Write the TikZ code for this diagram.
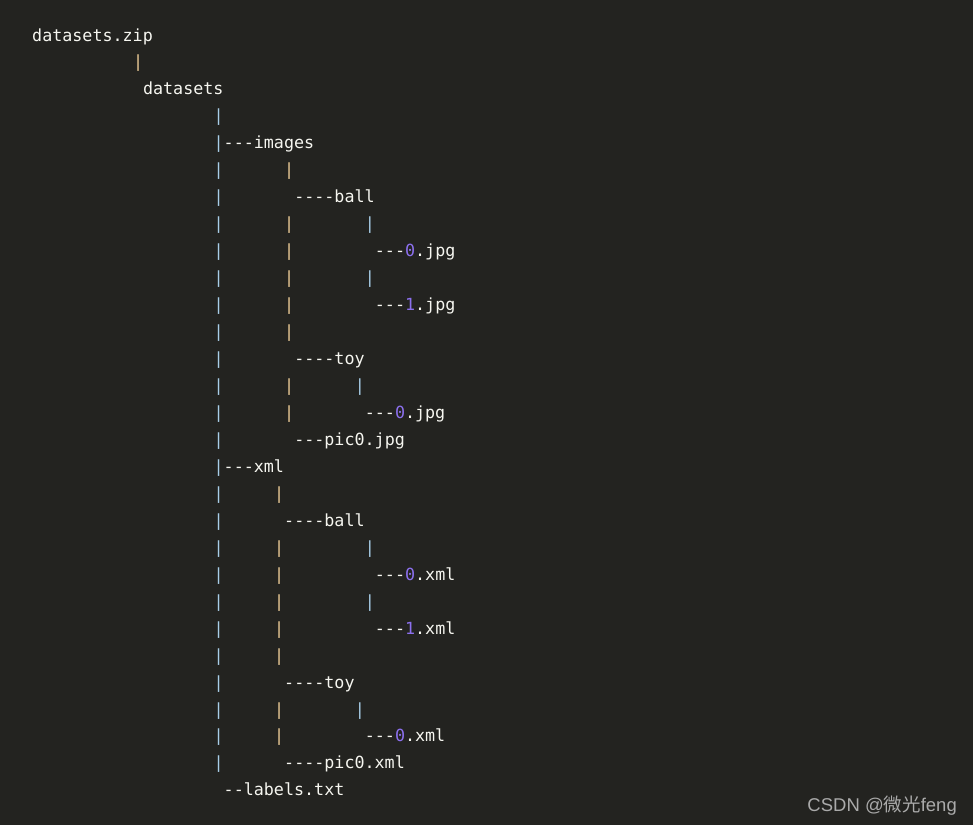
\documentclass[tikz,border=0pt]{standalone}
\usepackage{fontspec}
\setmonofont{DejaVu Sans Mono}
\newfontfamily\wmfont{Liberation Sans}
\newfontfamily\cjk{Noto Sans CJK SC}
\usepackage{tikz}
\definecolor{codebg}{RGB}{35,35,32}
\definecolor{codefg}{RGB}{246,246,240}
\definecolor{pipeblue}{RGB}{168,206,232}
\definecolor{pipeorange}{RGB}{236,204,150}
\definecolor{numpurple}{RGB}{140,112,238}
\definecolor{wmgray}{RGB}{170,170,170}
\tikzset{
  x=1pt, y=-1pt,
}
\tikzstyle{every node}=[inner sep=0pt,anchor=base west]
\tikzstyle{code}=[text=codefg,font=\fontsize{16.7}{20}\ttfamily]
\tikzstyle{bluepipe}=[code,text=pipeblue]
\tikzstyle{orangepipe}=[code,text=pipeorange]
\newcommand{\num}[1]{\textcolor{numpurple}{#1}}
% column c, row r of the listing
\newcommand{\at}[2]{({32+10.08*#1},{41+26.96*#2})}

\begin{document}
\begin{tikzpicture}
    \fill[codebg] (0,0) rectangle (973,825);
    \useasboundingbox (0,0) rectangle (973,825);
    % names
    \node[code] (zip) at \at{0}{0} {datasets.zip};
    \node[code] (ds) at \at{11}{2} {datasets};
    \node[code] (img) at \at{19}{4} {---images};
    \node[code] (imgball) at \at{26}{6} {----ball};
    \node[code] (imgball0) at \at{34}{8} {---\num{0}.jpg};
    \node[code] (imgball1) at \at{34}{10} {---\num{1}.jpg};
    \node[code] (imgtoy) at \at{26}{12} {----toy};
    \node[code] (imgtoy0) at \at{33}{14} {---\num{0}.jpg};
    \node[code] (imgpic) at \at{26}{15} {---pic0.jpg};
    \node[code] (xml) at \at{19}{16} {---xml};
    \node[code] (xmlball) at \at{25}{18} {----ball};
    \node[code] (xmlball0) at \at{34}{20} {---\num{0}.xml};
    \node[code] (xmlball1) at \at{34}{22} {---\num{1}.xml};
    \node[code] (xmltoy) at \at{25}{24} {----toy};
    \node[code] (xmltoy0) at \at{33}{26} {---\num{0}.xml};
    \node[code] (xmlpic) at \at{25}{27} {----pic0.xml};
    \node[code] (lbl) at \at{19}{28} {--labels.txt};
    % pipes
    \node[orangepipe] (p-zip) at \at{10}{1} {|};
    \foreach \r in {3,...,27}
      \node[bluepipe] (p-ds-\r) at \at{18}{\r} {|};
    \foreach \r in {5,7,8,9,10,11,13,14}
      \node[orangepipe] (p-img-\r) at \at{25}{\r} {|};
    \foreach \r in {17,19,20,21,22,23,25,26}
      \node[orangepipe] (p-xml-\r) at \at{24}{\r} {|};
    \foreach \r in {7,9,19,21}
      \node[bluepipe] (p-ball-\r) at \at{33}{\r} {|};
    \foreach \r in {13,25}
      \node[bluepipe] (p-toy-\r) at \at{32}{\r} {|};
    % watermark
    \node[anchor=base east,text=wmgray,font=\fontsize{18.5}{22}\wmfont] (wm) at (957,811)
      {CSDN @{\cjk 微光}feng};
\end{tikzpicture}
\end{document}
